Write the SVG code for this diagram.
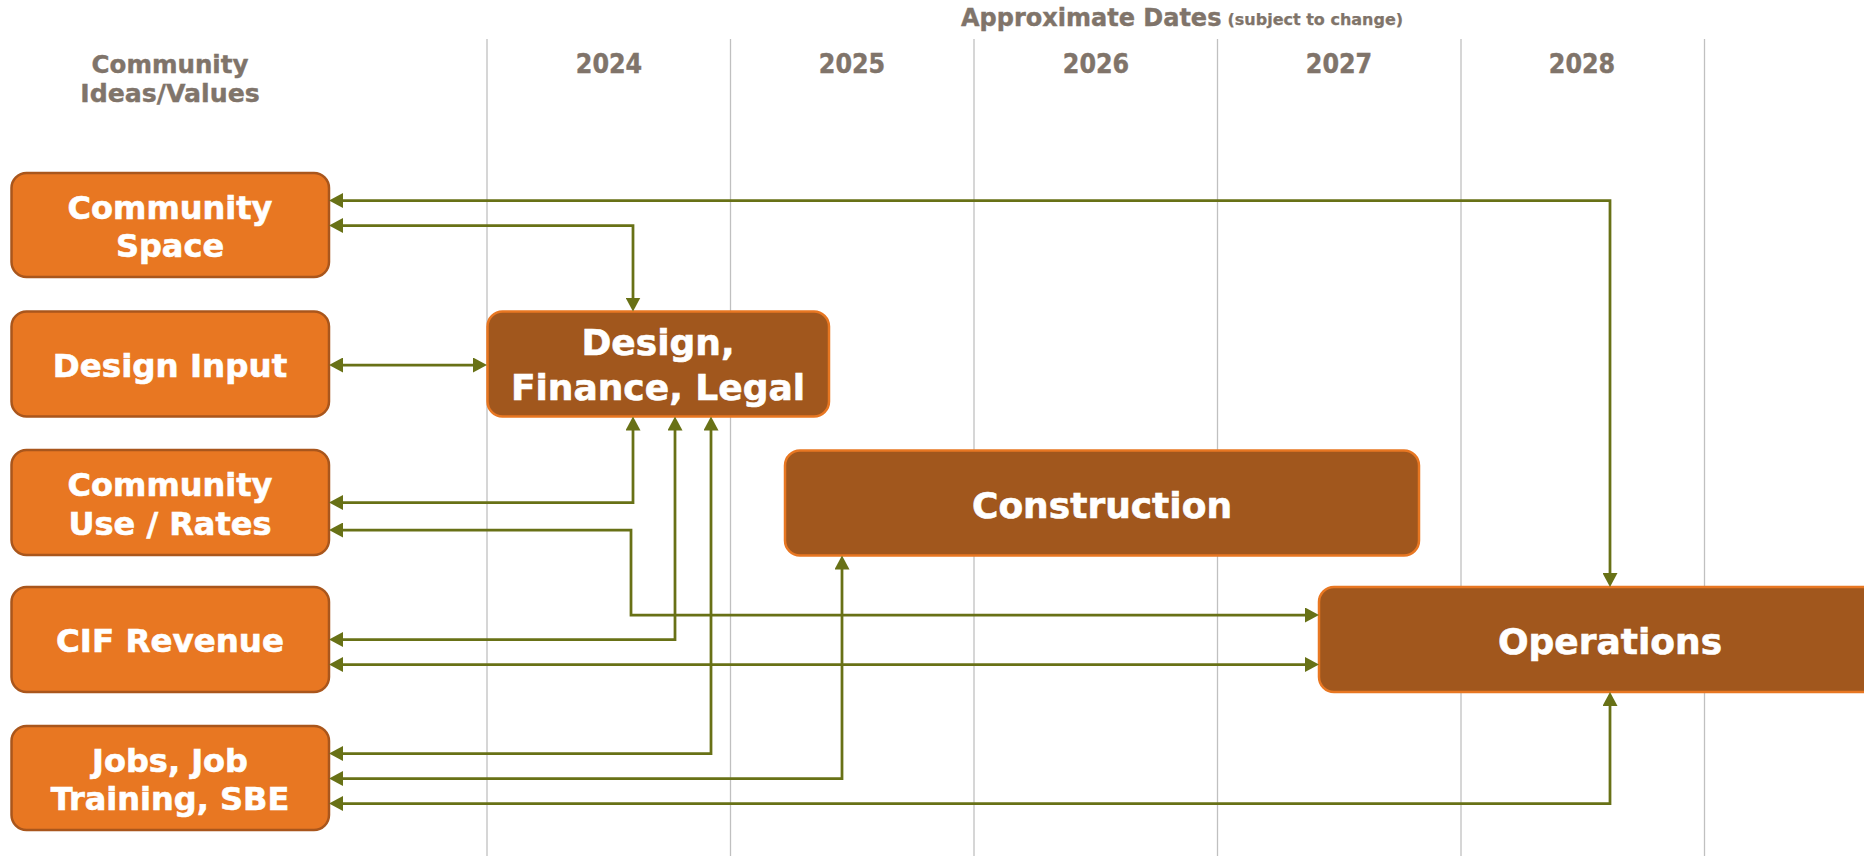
<svg xmlns="http://www.w3.org/2000/svg" width="1864" height="856" viewBox="0 0 1864 856">
<style>
.grid{stroke:#c0c0c0;stroke-width:1.3}
.hdr{font-family:"DejaVu Sans","Liberation Sans",sans-serif;font-weight:bold;fill:#80746a;stroke:#80746a;stroke-width:0.4;text-anchor:middle}
.yr{font-family:"DejaVu Sans Condensed","DejaVu Sans",sans-serif;font-stretch:condensed;font-weight:bold;font-size:26.5px;fill:#80746a;stroke:#80746a;stroke-width:0.4;text-anchor:middle}
.lbox{fill:#e87722;stroke:#a9561c;stroke-width:2.5}
.rbox{fill:#a1571d;stroke:#e87722;stroke-width:2.5}
.t{font-family:"DejaVu Sans","Liberation Sans",sans-serif;font-weight:bold;fill:#ffffff;stroke:#ffffff;stroke-width:0.6;text-anchor:middle}
.lt{font-size:32px}
.st{font-size:32.5px}
.rt{font-size:36px}
.c{fill:none;stroke:#687116;stroke-width:2.75;marker-start:url(#ah);marker-end:url(#ah)}
</style>
<defs>
<marker id="ah" viewBox="0 0 14 15" markerWidth="14" markerHeight="15" refX="8" refY="7.5" markerUnits="userSpaceOnUse" orient="auto-start-reverse">
<path d="M0,0 L14,7.5 L0,15 z" fill="#687116"/>
</marker>
</defs>
<rect width="1864" height="856" fill="#ffffff"/>
<g id="grid">
<line class="grid" x1="487" y1="39" x2="487" y2="856"/>
<line class="grid" x1="730.5" y1="39" x2="730.5" y2="856"/>
<line class="grid" x1="974" y1="39" x2="974" y2="856"/>
<line class="grid" x1="1217.5" y1="39" x2="1217.5" y2="856"/>
<line class="grid" x1="1461" y1="39" x2="1461" y2="856"/>
<line class="grid" x1="1704.5" y1="39" x2="1704.5" y2="856"/>
</g>
<g id="headers">
<text class="hdr" x="170" y="72.5" font-size="24.5">Community</text>
<text class="hdr" x="170" y="101.5" font-size="25.2">Ideas/Values</text>
<text class="hdr" x="961" y="26" font-size="24" style="text-anchor:start">Approximate Dates</text>
<text class="hdr" x="1227.5" y="25.3" font-size="16" style="text-anchor:start;stroke-width:0.25">(subject to change)</text>
<text class="yr" x="609" y="72.5">2024</text>
<text class="yr" x="852" y="72.5">2025</text>
<text class="yr" x="1096" y="72.5">2026</text>
<text class="yr" x="1339" y="72.5">2027</text>
<text class="yr" x="1582" y="72.5">2028</text>
</g>
<g id="community-space">
<rect class="lbox" x="11.5" y="173" width="317.5" height="104" rx="15"/>
<text class="t lt" x="170" y="219">Community</text>
<text class="t lt" x="170" y="257">Space</text>
</g>
<g id="design-input">
<rect class="lbox" x="11.5" y="311.5" width="317.5" height="105" rx="15"/>
<text class="t st" x="170" y="376.5">Design Input</text>
</g>
<g id="community-use">
<rect class="lbox" x="11.5" y="450" width="317.5" height="105" rx="15"/>
<text class="t lt" x="170" y="496">Community</text>
<text class="t lt" x="170" y="534.5">Use / Rates</text>
</g>
<g id="cif-revenue">
<rect class="lbox" x="11.5" y="587" width="317.5" height="105" rx="15"/>
<text class="t st" x="170" y="651.5">CIF Revenue</text>
</g>
<g id="jobs">
<rect class="lbox" x="11.5" y="726" width="317.5" height="104" rx="15"/>
<text class="t lt" x="170" y="771.5">Jobs, Job</text>
<text class="t lt" x="170" y="810">Training, SBE</text>
</g>
<g id="design-finance-legal">
<rect class="rbox" x="487.5" y="311.5" width="341.5" height="105" rx="15"/>
<text class="t rt" x="658" y="355">Design,</text>
<text class="t rt" x="658" y="400">Finance, Legal</text>
</g>
<g id="construction">
<rect class="rbox" x="785" y="450.5" width="634" height="105" rx="15"/>
<text class="t rt" x="1102" y="517.5">Construction</text>
</g>
<g id="operations">
<rect class="rbox" x="1319" y="587" width="582" height="105" rx="15"/>
<text class="t rt" x="1610" y="654">Operations</text>
</g>
<g id="connectors">
<path class="c" d="M335,200.5 H1610 V581"/>
<path class="c" d="M335,225.5 H633 V305.5"/>
<path class="c" d="M335,365 H481"/>
<path class="c" d="M335,502.5 H633 V422.5"/>
<path class="c" d="M335,530 H631 V615 H1313"/>
<path class="c" d="M335,639.5 H675 V422.5"/>
<path class="c" d="M335,664.5 H1313"/>
<path class="c" d="M335,753.5 H711 V422.5"/>
<path class="c" d="M335,778.5 H842 V561.5"/>
<path class="c" d="M335,803.5 H1610 V698"/>
</g>
</svg>
